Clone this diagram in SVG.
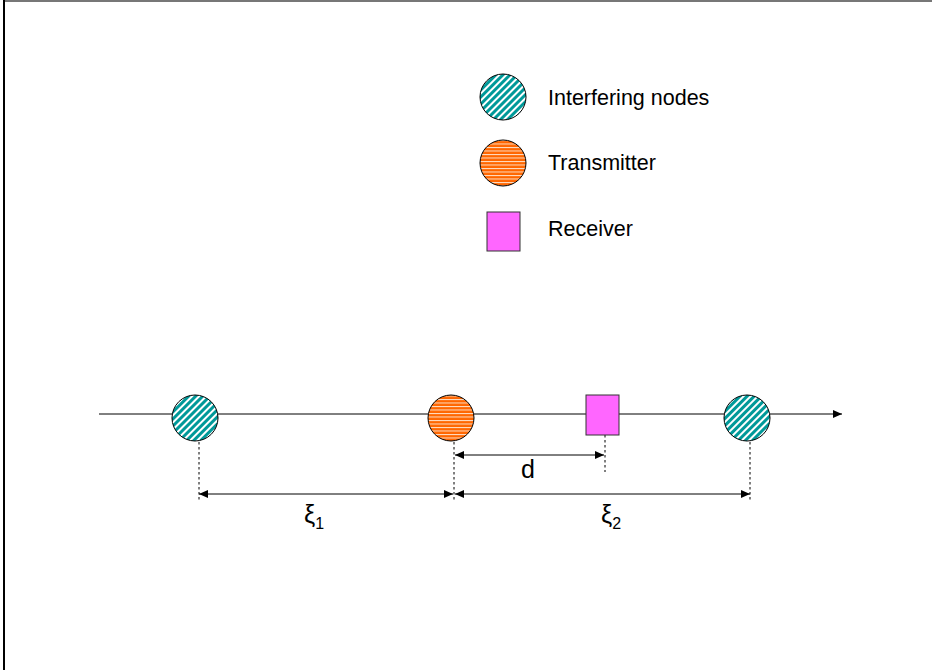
<svg xmlns="http://www.w3.org/2000/svg" width="932" height="670" viewBox="0 0 932 670">
<style>
.txt{font-family:"Liberation Sans",Arial,sans-serif;font-size:21.5px;fill:#000}
.lbl{font-family:"Liberation Sans",Arial,sans-serif;font-size:25px;fill:#000}
.xi{font-family:"Liberation Sans",Arial,sans-serif;font-size:25px;fill:#000}
.node{stroke:#000;stroke-width:1}
.intf{fill:url(#diag)}
.tx{fill:url(#horiz)}
.rx{fill:#ff66ff;stroke:#333;stroke-width:1}
.axis{stroke:#000;stroke-width:1;fill:none}
.dash{stroke:#000;stroke-width:1;stroke-dasharray:2.5,2.5;fill:none}
.dim{stroke:#000;stroke-width:1;fill:none;marker-start:url(#ah-s);marker-end:url(#ah-e)}
</style>
<defs>
<pattern id="diag" patternUnits="userSpaceOnUse" width="5" height="5" patternTransform="rotate(45)">
<rect width="5" height="5" fill="#009999"/>
<rect x="0" y="0" width="2" height="5" fill="#ffffff"/>
</pattern>
<pattern id="horiz" patternUnits="userSpaceOnUse" width="6" height="3.5">
<rect width="6" height="3.5" fill="#ff6600"/>
<rect x="0" y="0" width="6" height="1" fill="#ffe0c8"/>
</pattern>
<marker id="ah-e" markerWidth="10" markerHeight="8" refX="9" refY="4" orient="auto" markerUnits="userSpaceOnUse">
<path d="M0,0 L9,4 L0,8 z" fill="#000"/>
</marker>
<marker id="ah-s" markerWidth="10" markerHeight="8" refX="0" refY="4" orient="auto" markerUnits="userSpaceOnUse">
<path d="M9,0 L0,4 L9,8 z" fill="#000"/>
</marker>
</defs>
<rect width="932" height="670" fill="#fff"/>
<line x1="4" y1="1" x2="932" y2="1" stroke="#777" stroke-width="2"/>
<line x1="4" y1="0" x2="4" y2="670" stroke="#000" stroke-width="2"/>

<g id="legend-interfering">
<circle class="node intf" cx="503" cy="97" r="23"/>
<text class="txt" x="548" y="105">Interfering nodes</text>
</g>
<g id="legend-transmitter">
<circle class="node tx" cx="503" cy="163" r="23"/>
<text class="txt" x="548" y="170">Transmitter</text>
</g>
<g id="legend-receiver">
<rect class="rx" x="487" y="212" width="33" height="39"/>
<text class="txt" x="548" y="236">Receiver</text>
</g>

<g id="connectors">
<line class="axis" x1="99" y1="414" x2="842" y2="414" marker-end="url(#ah-e)"/>
<line class="dash" x1="199" y1="442" x2="199" y2="502"/>
<line class="dash" x1="454" y1="442" x2="454" y2="502"/>
<line class="dash" x1="605" y1="435" x2="605" y2="472"/>
<line class="dash" x1="750" y1="442" x2="750" y2="502"/>
<line class="dim" x1="455" y1="455" x2="604" y2="455"/>
<line class="dim" x1="199" y1="494" x2="453" y2="494"/>
<line class="dim" x1="455" y1="494" x2="750" y2="494"/>
</g>

<g id="interferer-1">
<circle class="node intf" cx="195" cy="418" r="23"/>
</g>
<g id="transmitter">
<circle class="node tx" cx="451" cy="418" r="23"/>
</g>
<g id="receiver">
<rect class="rx" x="586" y="395" width="33" height="40"/>
</g>
<g id="interferer-2">
<circle class="node intf" cx="747" cy="418" r="23"/>
</g>

<g id="labels">
<text class="lbl" x="521" y="478">d</text>
<text class="xi" x="304" y="523">ξ<tspan font-size="16" dy="6">1</tspan></text>
<text class="xi" x="601" y="523">ξ<tspan font-size="16" dy="6">2</tspan></text>
</g>
</svg>
